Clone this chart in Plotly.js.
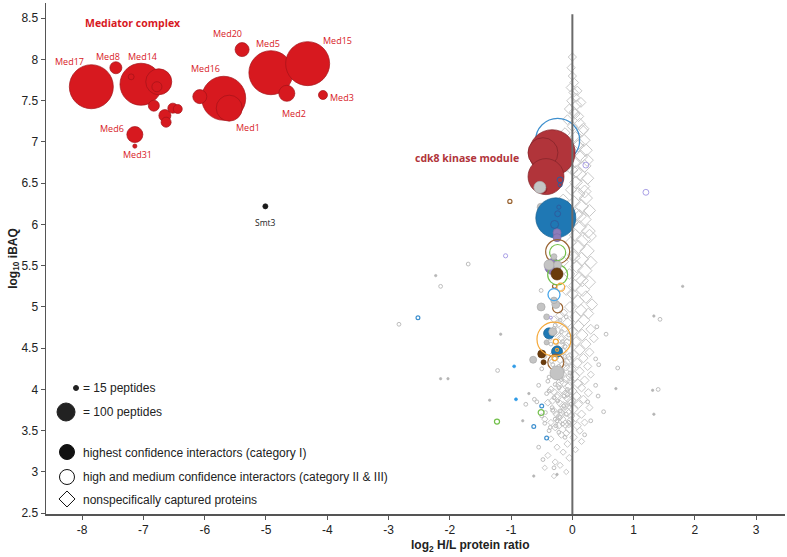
<!DOCTYPE html>
<html>
<head>
<meta charset="utf-8">
<script src="https://cdn.plot.ly/plotly-3.0.1.min.js"></script>
<style>html,body{margin:0;padding:0;background:#fff;}#chart{width:787px;height:557px;}</style>
</head>
<body>
<div id="chart"></div>
<script>
// ---------------- DATA ----------------
// Mediator complex (category I, red)
const medX = [-7.85, -7.04, -5.69, -4.92, -4.32, -6.75, -5.60, -7.14, -4.66, -6.08, -5.39, -7.45, -6.65, -6.83, -6.78, -6.63, -6.52, -6.44, -4.07, -7.20, -7.14];
const medY = [7.67, 7.70, 7.53, 7.84, 7.95, 7.73, 7.41, 7.09, 7.59, 7.55, 8.12, 7.90, 7.32, 7.44, 7.67, 7.24, 7.41, 7.40, 7.57, 7.79, 6.95];
const medP = [670, 610, 670, 670, 670, 234, 234, 89, 89, 68, 68, 50, 50, 42, 35, 35, 35, 28, 28, 12, 6];
const medNames = ["Med17", "Med8", "Med14", "Med20", "Med5", "Med15", "Med16", "Med3", "Med2", "Med1", "Med6", "Med31"];

// cdk8 kinase module (category I, dark red)
const cdkX = [-0.33, -0.48, -0.43, -0.48];
const cdkY = [6.87, 6.87, 6.58, 6.43];
const cdkP = [732, 311, 448, 22];

// Smt3
const smtX = [-5.01];
const smtY = [6.22];
const smtP = [9];

// other category I interactors (filled)
const blueFX = [-0.27, -0.38, -0.25];
const blueFY = [6.08, 4.68, 4.46];
const blueFP = [554, 42, 42];
const purpleFX = [-0.32, -0.25, -0.25];
const purpleFY = [5.49, 5.90, 5.84];
const purpleFP = [89, 22, 22];
const brownFX = [-0.25, -0.50, -0.47];
const brownFY = [5.40, 4.43, 4.33];
const brownFP = [50, 22, 9];
const grayFX = [-0.53, -0.51, -0.38, -0.24, -0.30, -0.51, -0.27, -0.42, -0.32, -0.42, -0.64, -0.25, -0.30];
const grayFY = [6.45, 6.21, 5.51, 5.51, 5.61, 5.00, 5.03, 4.88, 4.70, 4.57, 4.36, 4.20, 5.08];
const grayFP = [50, 22, 35, 22, 12, 22, 22, 12, 22, 9, 17, 68, 15];
const blueDotX = [-0.95, -0.92];
const blueDotY = [4.28, 3.88];
const grayDotX = [-2.23, -1.17, -2.15, -2.03, -0.71, -1.35, -0.81, 1.80, 1.33, 0.71, 1.31, 1.33, -0.63, -0.25];
const grayDotY = [5.38, 4.67, 4.13, 4.13, 3.95, 3.87, 3.62, 5.25, 4.89, 4.01, 3.99, 3.70, 2.95, 2.97];

// category II & III interactors (open)
const blueOX = [-0.24, -2.52, -0.50, -0.63, -0.42];
const blueOY = [7.02, 4.87, 3.80, 3.55, 3.41];
const blueOP = [670, 5, 5, 5, 5];
const navyOX = [-0.20, -0.20, -0.22, -0.24, -0.29];
const navyOY = [6.54, 6.48, 6.21, 6.13, 6.00];
const navyOP = [12, 6, 6, 12, 22];
const lblueOX = [-0.30];
const lblueOY = [5.15];
const lblueOP = [50];
const purpleOX = [-0.35, -1.09, 0.22, 1.20];
const purpleOY = [4.87, 5.62, 6.72, 6.39];
const purpleOP = [3, 6, 12, 12];
const brownOX = [-0.24, -0.24, -0.27, -0.29, -1.02];
const brownOY = [5.67, 4.99, 4.33, 5.25, 6.28];
const brownOP = [199, 35, 89, 6, 6];
const greenOX = [-0.24, -0.24, -0.51, -1.23];
const greenOY = [5.66, 5.39, 3.72, 3.61];
const greenOP = [89, 138, 12, 9];
const orangeOX = [-0.19, -0.30, -0.27, -0.29, -0.25];
const orangeOY = [5.24, 4.61, 4.58, 4.38, 4.48];
const orangeOP = [22, 400, 9, 9, 3];
const grayOX = [-1.70, -2.15, -2.83, -1.22, -0.76, -0.58, -0.45, -0.51, 1.43, 0.40, 0.55, 0.38, 0.43, 0.74, 1.40, 0.51,
  -0.35, -0.45, -0.50, -0.38, -0.55, -0.42, -0.62, -0.33, -0.50, -0.25, -0.38, -0.55, -0.48, -0.30, 0.25, 0.30, 0.20, 0.38, 0.42,
  -0.28, -0.18, -0.36, -0.12, -0.24, -0.32, -0.16, -0.40, -0.22, -0.08, -0.30, -0.14, -0.44, -0.20, -0.27,
  -0.10, -0.20, -0.30, -0.06, -0.16, -0.26, -0.12, -0.34, -0.22, -0.04, -0.18, -0.28, -0.08, -0.38, -0.14, -0.24,
  -0.02, -0.32, -0.20, -0.10, -0.28, -0.16, -0.06, -0.36, -0.22, -0.12];
const grayOY = [5.52, 5.25, 4.79, 4.23, 3.82, 3.85, 3.59, 5.20, 4.85, 4.76, 4.67, 4.37, 4.30, 4.26, 4.00, 3.73,
  4.55, 4.40, 4.25, 4.15, 4.05, 3.95, 3.88, 3.78, 3.68, 3.62, 3.50, 3.30, 3.15, 3.05, 3.85, 3.62, 3.45, 4.05, 3.92,
  4.78, 4.70, 4.62, 4.52, 4.45, 4.30, 4.22, 4.10, 4.02, 3.94, 3.90, 3.80, 3.72, 3.66, 3.56,
  4.88, 4.84, 4.74, 4.66, 4.58, 4.50, 4.40, 4.34, 4.28, 4.20, 4.12, 4.06, 4.00, 3.98, 3.92, 3.86,
  3.82, 3.75, 3.74, 3.70, 3.64, 3.58, 3.60, 3.54, 3.48, 3.42];

// nonspecifically captured proteins (diamonds)
const nsX = [0.0, -0.02, 0.0, 0.03, -0.03, 0.02, 0.05, -0.02, 0.07, -0.05, 0.03, 0.10, -0.08, 0.12, 0.0, 0.16, -0.12, 0.05, 0.19, -0.15,
  0.09, 0.22, -0.05, 0.14, 0.04, 0.20, 0.0, 0.12, 0.25, 0.06, 0.17, -0.02, 0.10, 0.22, 0.03, 0.15, 0.28, 0.07, 0.19, 0.0,
  0.12, 0.26, 0.05, 0.18, -0.03, 0.10, 0.24, 0.02, 0.15, 0.30, 0.07, 0.20, -0.05, 0.12, 0.27, 0.04, 0.17, 0.0, 0.22, 0.09, 0.32, -0.04,
  0.14, 0.26, 0.05, 0.19, -0.08, 0.10, 0.30, 0.0, 0.16, 0.35, 0.06, 0.22, -0.10, 0.12, 0.28, 0.02,
  0.18, -0.05, 0.08, -0.15, 0.25, -0.02, 0.12, -0.30, 0.30, 0.04, -0.10, 0.20, -0.20, 0.09, -0.05, 0.15, -0.35, 0.0, 0.26, -0.12, 0.07, -0.25,
  0.18, -0.02, -0.40, 0.10, -0.15, 0.28, 0.02, -0.30, -0.08, 0.15, -0.20, 0.05, -0.45, -0.03, 0.20, -0.12, 0.08, -0.28, -0.05, 0.12,
  -0.18, 0.02, -0.35, 0.15, -0.08, -0.25, 0.05, -0.15, -0.40, -0.05, -0.28, -0.20, -0.45, -0.10, -0.30,
  -0.10, -0.15, -0.10, -0.15, -0.10, -0.20, -0.18,
  -0.30, -0.22, -0.12, -0.28, -0.18, -0.08, -0.25, -0.15, -0.32, -0.05, -0.20, -0.10, -0.26, -0.15, -0.04, -0.22, -0.30, -0.16,
  -0.08, -0.20, -0.33, -0.12, -0.26, -0.16, -0.02, -0.35, -0.22, -0.10,
  0.08, 0.14, 0.04, 0.18, 0.10, 0.24, 0.06, 0.20, 0.12, 0.28, 0.03, 0.16,
  -0.14, -0.24, -0.06, -0.18, -0.28, -0.10, -0.20, -0.03, -0.14, -0.24, -0.08, -0.18, -0.12, -0.02, -0.22, -0.06];
const nsY = [8.03, 7.90, 7.80, 7.72, 7.66, 7.60, 7.54, 7.50, 7.45, 7.40, 7.36, 7.31, 7.27, 7.22, 7.19, 7.14, 7.11, 7.06, 7.02, 7.00,
  6.95, 6.90, 6.86, 6.82, 6.76, 6.71, 6.66, 6.61, 6.56, 6.51, 6.46, 6.42, 6.37, 6.32, 6.27, 6.22, 6.17, 6.12, 6.06, 6.02,
  5.97, 5.92, 5.87, 5.82, 5.78, 5.73, 5.68, 5.63, 5.58, 5.54, 5.49, 5.44, 5.40, 5.35, 5.30, 5.26, 5.21, 5.16, 5.12, 5.07, 5.03, 5.00,
  4.96, 4.92, 4.88, 4.84, 4.81, 4.77, 4.73, 4.70, 4.66, 4.62, 4.58, 4.55, 4.52, 4.48, 4.45, 4.42,
  4.38, 4.35, 4.32, 4.30, 4.28, 4.25, 4.22, 4.20, 4.18, 4.16, 4.13, 4.11, 4.09, 4.07, 4.04, 4.02, 4.00, 3.98, 3.96, 3.94, 3.92, 3.90,
  3.88, 3.86, 3.84, 3.82, 3.80, 3.78, 3.76, 3.74, 3.72, 3.70, 3.68, 3.66, 3.64, 3.62, 3.60, 3.58, 3.56, 3.54, 3.52, 3.50,
  3.45, 3.42, 3.40, 3.37, 3.34, 3.30, 3.27, 3.24, 3.20, 3.17, 3.12, 3.08, 3.05, 3.00, 2.95,
  6.70, 6.30, 5.95, 5.55, 5.20, 4.90, 4.60,
  4.85, 4.80, 4.74, 4.68, 4.63, 4.57, 4.50, 4.46, 4.42, 4.40, 4.36, 4.27, 4.24, 4.18, 4.15, 4.05, 3.97, 3.99,
  3.89, 3.83, 3.86, 3.76, 3.70, 3.64, 3.68, 3.60, 3.56, 3.47,
  7.62, 7.48, 7.34, 7.16, 6.98, 6.78, 6.64, 6.40, 6.10, 5.86, 5.60, 5.32,
  4.93, 4.71, 4.64, 4.54, 4.38, 4.33, 4.21, 4.10, 4.08, 3.93, 3.95, 3.72, 3.80, 3.84, 3.66, 3.58];
const nsP = [14, 14, 14, 16, 16, 18, 16, 16, 20, 20, 22, 22, 20, 26, 22, 28, 22, 26, 30, 26,
  30, 34, 26, 36, 30, 34, 26, 36, 30, 34, 40, 26, 34, 36, 30, 40, 30, 34, 42, 26,
  36, 40, 30, 44, 26, 36, 42, 30, 40, 32, 32, 44, 24, 36, 36, 30, 38, 26, 32, 32, 26, 24,
  30, 24, 26, 28, 20, 26, 20, 22, 28, 16, 20, 22, 16, 24, 16, 20,
  18, 16, 20, 14, 14, 18, 16, 10, 10, 20, 16, 16, 14, 18, 16, 14, 10, 18, 14, 16, 16, 14,
  14, 18, 10, 14, 16, 10, 16, 10, 16, 14, 14, 16, 8, 14, 10, 14, 14, 10, 14, 10,
  10, 12, 8, 8, 10, 8, 8, 8, 8, 10, 8, 8, 6, 6, 6,
  24, 26, 24, 24, 20, 16, 16,
  10, 12, 12, 10, 12, 12, 10, 12, 10, 12, 12, 12, 10, 12, 12, 10, 10, 12,
  12, 10, 10, 12, 10, 10, 12, 8, 10, 10,
  18, 20, 22, 26, 28, 32, 30, 34, 36, 38, 30, 32,
  12, 12, 14, 12, 10, 14, 12, 14, 12, 10, 12, 10, 12, 14, 10, 12];

// axis ticks
const xTicks = [-8, -7, -6, -5, -4, -3, -2, -1, 0, 1, 2, 3];
const yTicks = [2.5, 3, 3.5, 4, 4.5, 5, 5.5, 6, 6.5, 7, 7.5, 8, 8.5];

// ---------------- DRAWING ----------------
const sz = p => p.map(v => 1.7 * Math.sqrt(v));
function filled(x, y, p, fill, line) {
  return {type: 'scatter', mode: 'markers', x: x, y: y, hoverinfo: 'skip', showlegend: false,
    marker: {symbol: 'circle', size: sz(p), color: fill, opacity: 1, line: {color: line, width: 0.7}}};
}
function open(x, y, p, line, w) {
  return {type: 'scatter', mode: 'markers', x: x, y: y, hoverinfo: 'skip', showlegend: false,
    marker: {symbol: 'circle-open', size: sz(p), color: line, opacity: 1, line: {color: line, width: w || 1.2}}};
}
const traces = [
  {type: 'scatter', mode: 'markers', x: nsX, y: nsY, hoverinfo: 'skip', showlegend: false,
    marker: {symbol: 'diamond-open', size: sz(nsP), color: '#c8c8c8', opacity: 1, line: {color: '#c8c8c8', width: 1}}},
  open(grayOX, grayOY, grayOX.map(() => 5), '#bdbdbd', 1),
  filled(grayDotX, grayDotY, grayDotX.map(() => 2), '#b5b5b5', '#b5b5b5'),
  open(blueOX, blueOY, blueOP, '#3d8fce', 1.2),
  filled(cdkX, cdkY, cdkP, '#b1343a', '#7f2328'),
  filled(grayFX.slice(0, 2), grayFY.slice(0, 2), grayFP.slice(0, 2), '#c4c4c4', '#a9a9a9'),
  filled(blueFX, blueFY, blueFP, '#1f78b4', '#17608f'),
  open(navyOX, navyOY, navyOP, '#2d5c9e', 1),
  filled(purpleFX, purpleFY, purpleFP, '#8e7cb9', '#7b6aa6'),
  open(brownOX, brownOY, brownOP, '#9a6432', 1.2),
  open(greenOX, greenOY, greenOP, '#72c04a', 1.2),
  filled(grayFX.slice(2), grayFY.slice(2), grayFP.slice(2), '#c4c4c4', '#a9a9a9'),
  filled(brownFX, brownFY, brownFP, '#6b3c0c', '#5a3008'),
  open(orangeOX, orangeOY, orangeOP, '#f5a838', 1.2),
  open(lblueOX, lblueOY, lblueOP, '#49a7ea', 1.3),
  open(purpleOX, purpleOY, purpleOP, '#a99fe6', 1),
  filled(blueDotX, blueDotY, [3, 3], '#2f9be6', '#2f9be6'),
  filled(medX, medY, medP, '#d7191f', '#a31318'),
  filled(smtX, smtY, smtP, '#1a1a1a', '#1a1a1a')
];

const labFont = {family: 'Open Sans, Noto Sans, sans-serif', size: 9, color: '#d7191f'};
const medLabelPos = [[-8.21, 7.97], [-7.58, 8.04], [-7.01, 8.04], [-5.62, 8.31], [-4.97, 8.20], [-3.84, 8.23],
  [-5.98, 7.89], [-3.76, 7.54], [-4.54, 7.35], [-5.29, 7.18], [-7.52, 7.16], [-7.09, 6.85]];
const annotations = medNames.map((n, i) => ({text: n, x: medLabelPos[i][0], y: medLabelPos[i][1], xref: 'x', yref: 'y',
  showarrow: false, font: labFont}));
annotations.push({text: '<b>Mediator complex</b>', x: -7.17, y: 8.44, xref: 'x', yref: 'y', showarrow: false,
  font: {family: 'Open Sans, sans-serif', size: 10.5, color: '#d7191f'}});
annotations.push({text: '<b>cdk8 kinase module</b>', x: -1.72, y: 6.80, xref: 'x', yref: 'y', showarrow: false,
  font: {family: 'Open Sans, sans-serif', size: 10.5, color: '#b1343a'}});
annotations.push({text: 'Smt3', x: -5.01, y: 6.03, xref: 'x', yref: 'y', showarrow: false,
  font: {family: 'Open Sans, sans-serif', size: 8.5, color: '#222'}});

const legFont = {family: 'Liberation Sans, Arial, sans-serif', size: 12, color: '#222'};
const legTexts = [['= 15 peptides', 0.2466], ['= 100 peptides', 0.1996], ['highest confidence interactors (category I)', 0.1194],
  ['high and medium confidence interactors (category II & III)', 0.0724], ['nonspecifically captured proteins', 0.0274]];
legTexts.forEach(t => annotations.push({text: t[0], x: 0.0474, y: t[1], xref: 'paper', yref: 'paper', xanchor: 'left',
  yanchor: 'middle', showarrow: false, font: legFont}));

const axFont = {family: 'Liberation Sans Narrow, Arial Narrow, Liberation Sans, sans-serif', size: 12, color: '#222'};
annotations.push({text: '<b>log<sub>2</sub> H/L protein ratio</b>', x: 0.574, y: -0.062, xref: 'paper', yref: 'paper',
  xanchor: 'center', yanchor: 'middle', showarrow: false, font: axFont});

function pcircle(xp, yp, r, fill, line) {
  return {type: 'circle', xref: 'paper', yref: 'paper', xsizemode: 'pixel', ysizemode: 'pixel', xanchor: xp, yanchor: yp,
    x0: -r, x1: r, y0: -r, y1: r, fillcolor: fill, line: {color: line, width: 1}, layer: 'above'};
}
const shapes = [
  {type: 'line', xref: 'x', yref: 'y', x0: 0, x1: 0, y0: 2.49, y1: 8.55, line: {color: '#6a6a6a', width: 2}, layer: 'above'},
  pcircle(0.0406, 0.2466, 2.5, '#222', '#222'),
  pcircle(0.0271, 0.1996, 9, '#222', '#222'),
  pcircle(0.0284, 0.1213, 7.5, '#111', '#111'),
  pcircle(0.0284, 0.0724, 7.5, 'rgba(0,0,0,0)', '#111'),
  {type: 'path', xref: 'paper', yref: 'paper', xsizemode: 'pixel', ysizemode: 'pixel', xanchor: 0.0284, yanchor: 0.0294,
    path: 'M -8 0 L 0 8 L 8 0 L 0 -8 Z', fillcolor: 'rgba(0,0,0,0)', line: {color: '#111', width: 1}, layer: 'above'}
];

const layout = {
  width: 787, height: 557,
  margin: {l: 46, r: 2, t: 3, b: 43},
  paper_bgcolor: '#fff', plot_bgcolor: '#fff',
  showlegend: false,
  xaxis: {range: [-8.59, 3.47], tickvals: xTicks, ticktext: xTicks.map(String), showgrid: false, zeroline: false,
    showline: true, linecolor: '#555', linewidth: 1.5, ticks: 'outside', ticklen: 4, tickcolor: '#555', tickfont: axFont},
  yaxis: {range: [2.49, 8.685], tickvals: yTicks, ticktext: yTicks.map(String), showgrid: false, zeroline: false,
    showline: true, linecolor: '#555', linewidth: 1.5, ticks: 'outside', ticklen: 4, tickcolor: '#555', tickfont: axFont,
    title: {text: '<b>log<sub>10</sub> iBAQ</b>', font: axFont, standoff: 0}},
  annotations: annotations,
  shapes: shapes
};
Plotly.newPlot('chart', traces, layout, {staticPlot: true, displayModeBar: false});
</script>
</body>
</html>
